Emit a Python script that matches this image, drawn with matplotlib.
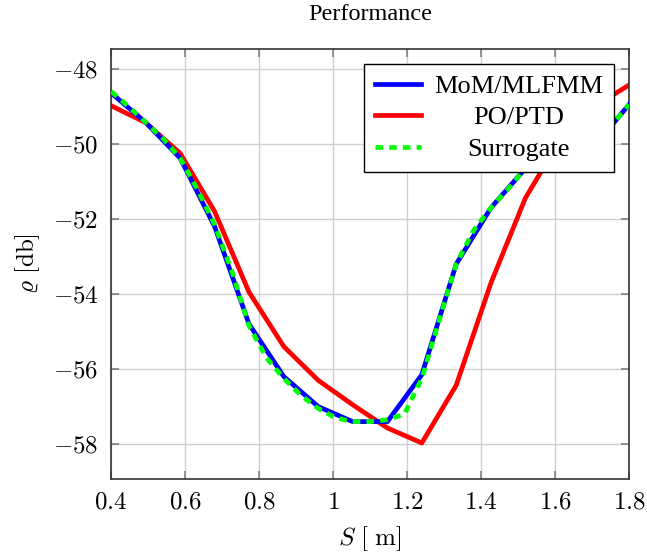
import matplotlib
matplotlib.use("Agg")
import matplotlib.pyplot as plt
import matplotlib.ticker as mticker

# sample positions (m) for the two solvers
S = [0.4, 0.493, 0.587, 0.68, 0.773, 0.867, 0.96, 1.053,
     1.147, 1.24, 1.333, 1.427, 1.52, 1.613, 1.707, 1.8]
mom_mlfmm = [-48.64, -49.42, -50.38, -52.2, -54.8, -56.2, -57.0, -57.4,
             -57.4, -56.15, -53.2, -51.7, -50.65, -50.3, -50.05, -48.95]
po_ptd = [-48.98, -49.43, -50.25, -51.8, -53.95, -55.4, -56.3, -56.95,
          -57.57, -57.97, -56.43, -53.7, -51.44, -49.9, -49.0, -48.43]

# surrogate on a finer grid
S_sur = [0.4, 0.447, 0.493, 0.54, 0.587, 0.633, 0.68, 0.727, 0.773, 0.82,
         0.867, 0.913, 0.96, 1.007, 1.053, 1.1, 1.147, 1.193, 1.24, 1.287,
         1.333, 1.38, 1.427, 1.473, 1.52, 1.567, 1.613, 1.66, 1.707, 1.753, 1.8]
surrogate = [-48.6, -49.0, -49.42, -49.85, -50.38, -51.2, -52.15, -53.4, -54.85, -55.7,
             -56.25, -56.7, -57.05, -57.3, -57.4, -57.4, -57.35, -57.2, -56.25, -54.7,
             -53.2, -52.3, -51.7, -51.2, -50.65, -50.45, -50.3, -50.15, -50.05, -49.5, -48.95]

xticks = [0.4, 0.6, 0.8, 1.0, 1.2, 1.4, 1.6, 1.8]
yticks = [-58, -56, -54, -52, -50, -48]

plt.rcParams['font.family'] = ['Liberation Serif', 'DejaVu Serif']
plt.rcParams['mathtext.fontset'] = 'cm'

fig = plt.figure(figsize=(6.47, 5.57), dpi=100)
ax = fig.add_axes([0.1716, 0.140, 0.8006, 0.772])

ax.plot(S, mom_mlfmm, color='#0000ff', lw=3.4, label='MoM/MLFMM', zorder=3)
ax.plot(S, po_ptd, color='#ff0000', lw=3.4, label='PO/PTD', zorder=2)
ax.plot(S_sur, surrogate, color='#00ff00', lw=3.4, ls=(0, (1.6, 1.3)),
        label='Surrogate', zorder=4)

ax.set_xlim(0.4, 1.8)
ax.set_ylim(-58.93, -47.47)
ax.set_xticks(xticks)
ax.set_yticks(yticks)
fmt = mticker.FuncFormatter(lambda v, _: r'$%s$' % ('%g' % v))
ax.xaxis.set_major_formatter(fmt)
ax.yaxis.set_major_formatter(fmt)
ax.tick_params(labelsize=18, direction='in', length=6, width=1.2, color='#808080',
               top=True, right=True, pad=9)
ax.grid(True, color='#d0d0d0', lw=1)
ax.set_axisbelow(True)
for sp in ax.spines.values():
    sp.set_color('#333333')
    sp.set_linewidth(1.2)

ax.set_xlabel(r'$S\ [\ \mathrm{m}]$', fontsize=18, labelpad=8)
ax.set_ylabel(r'$\varrho\ [\mathrm{db}]$', fontsize=18, labelpad=8)
ax.set_title('Performance', fontsize=17.5, pad=21)

leg = ax.legend(loc='upper right', fontsize=19, frameon=True, fancybox=False,
                edgecolor='black', framealpha=1, handlelength=1.75,
                labelspacing=0.3, borderaxespad=0.55, borderpad=0.42,
                handletextpad=0.5)
leg.get_frame().set_linewidth(1.0)

# centre the legend labels in their column
fig.canvas.draw()
r = fig.canvas.get_renderer()
widths = [t.get_window_extent(r).width for t in leg.get_texts()]
wmax = max(widths)
for t, w in zip(leg.get_texts(), widths):
    t.set_position(((wmax - w) / 2, 0))

fig.savefig('out.png', dpi=100)
